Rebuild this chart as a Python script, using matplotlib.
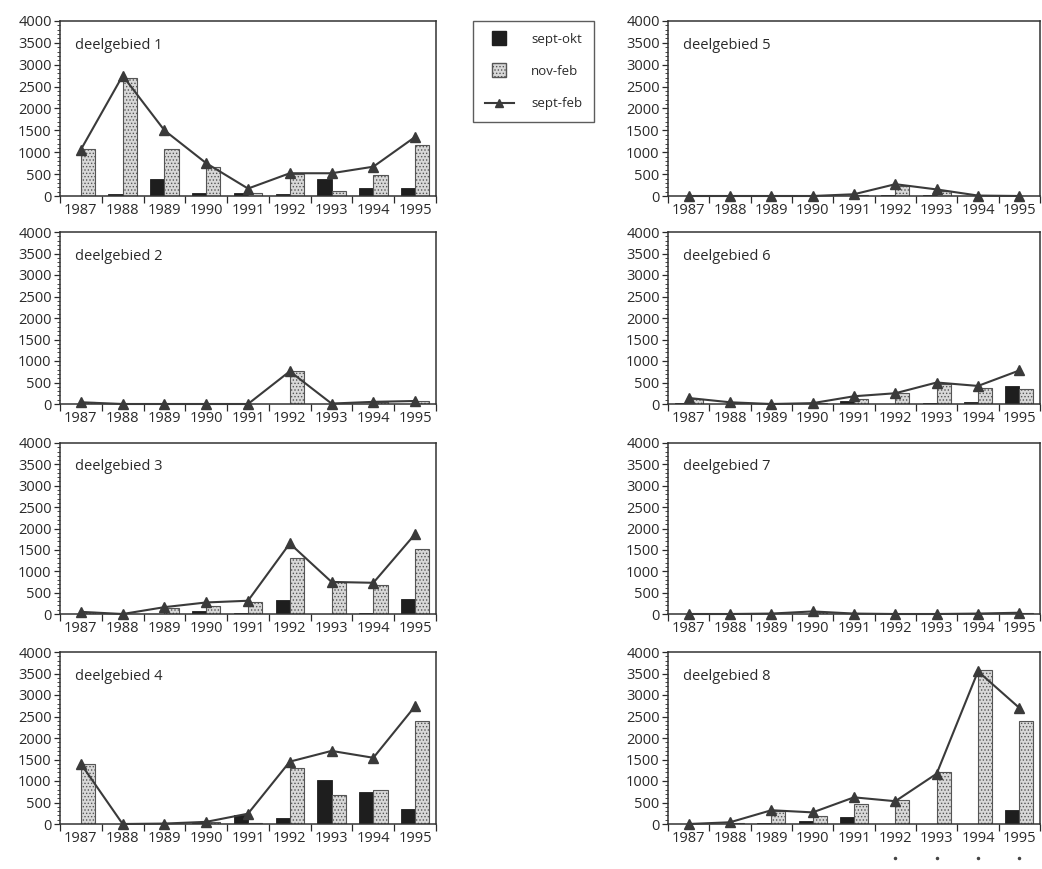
import matplotlib
matplotlib.use("Agg")
import matplotlib.pyplot as plt
from matplotlib.patches import Patch, Rectangle
from matplotlib.lines import Line2D
from matplotlib.legend_handler import HandlerPatch
from matplotlib.ticker import MultipleLocator, FixedLocator, NullFormatter

plt.rcParams['font.family'] = ['Open Sans', 'DejaVu Sans']
plt.rcParams['hatch.linewidth'] = 0.6

years = ['1987', '1988', '1989', '1990', '1991', '1992', '1993', '1994', '1995']
panel_titles = ['deelgebied 1', 'deelgebied 2', 'deelgebied 3', 'deelgebied 4',
                'deelgebied 5', 'deelgebied 6', 'deelgebied 7', 'deelgebied 8']
series_labels = ['sept-okt', 'nov-feb', 'sept-feb']

# sept-okt (black bars)
sept_okt_1 = [0, 40, 400, 60, 80, 40, 390, 190, 190]
sept_okt_2 = [0, 0, 0, 0, 0, 10, 0, 0, 0]
sept_okt_3 = [10, 0, 10, 80, 30, 330, 10, 30, 340]
sept_okt_4 = [0, 0, 0, 20, 220, 150, 1030, 740, 340]
sept_okt_5 = [0, 0, 0, 0, 10, 20, 20, 0, 0]
sept_okt_6 = [20, 0, 0, 0, 60, 10, 30, 50, 430]
sept_okt_7 = [0, 0, 0, 10, 0, 0, 0, 0, 0]
sept_okt_8 = [0, 0, 20, 80, 160, 0, 0, 10, 330]

# nov-feb (stippled bars)
nov_feb_1 = [1080, 2700, 1080, 670, 80, 500, 110, 470, 1160]
nov_feb_2 = [40, 0, 0, 0, 0, 760, 15, 50, 70]
nov_feb_3 = [40, 0, 150, 180, 270, 1300, 740, 680, 1530]
nov_feb_4 = [1400, 0, 10, 40, 20, 1300, 670, 800, 2400]
nov_feb_5 = [0, 0, 0, 0, 30, 230, 120, 10, 0]
nov_feb_6 = [120, 30, 0, 20, 120, 250, 470, 370, 350]
nov_feb_7 = [0, 0, 10, 50, 0, 0, 0, 0, 30]
nov_feb_8 = [0, 20, 300, 190, 470, 550, 1220, 3580, 2400]

# sept-feb (line with triangles)
sept_feb_1 = [1060, 2750, 1500, 750, 170, 520, 520, 670, 1350]
sept_feb_2 = [40, 0, 0, 0, 0, 760, 10, 50, 70]
sept_feb_3 = [50, 0, 160, 270, 310, 1650, 750, 730, 1870]
sept_feb_4 = [1400, 0, 10, 50, 240, 1450, 1700, 1540, 2740]
sept_feb_5 = [0, 0, 0, 0, 40, 270, 150, 10, 0]
sept_feb_6 = [140, 40, 0, 20, 180, 250, 500, 420, 780]
sept_feb_7 = [0, 0, 10, 60, 10, 0, 0, 10, 30]
sept_feb_8 = [0, 40, 320, 270, 620, 530, 1170, 3550, 2700]

sept_okt = [sept_okt_1, sept_okt_2, sept_okt_3, sept_okt_4,
            sept_okt_5, sept_okt_6, sept_okt_7, sept_okt_8]
nov_feb = [nov_feb_1, nov_feb_2, nov_feb_3, nov_feb_4,
           nov_feb_5, nov_feb_6, nov_feb_7, nov_feb_8]
sept_feb = [sept_feb_1, sept_feb_2, sept_feb_3, sept_feb_4,
            sept_feb_5, sept_feb_6, sept_feb_7, sept_feb_8]

W, H = 1042, 869
fig = plt.figure(figsize=(W / 100, H / 100), dpi=100)

left_x, left_w = 60, 376
right_x, right_w = 668, 372
rows = [(21, 196), (232, 404), (443, 614), (652, 824)]

BLACK = '#1e1e1e'
GREY = '#d8d8d8'
LINEC = '#3a3a3a'
TXT = '#2a2a2a'

x = list(range(len(years)))
bw = 0.34

for i in range(8):
    col = 0 if i < 4 else 1
    r = i % 4
    top, bot = rows[r]
    x0, w = (left_x, left_w) if col == 0 else (right_x, right_w)
    ax = fig.add_axes([x0 / W, 1 - bot / H, w / W, (bot - top) / H])

    ax.bar([v - bw / 2 for v in x], sept_okt[i], width=bw, color=BLACK,
           edgecolor=BLACK, linewidth=0.6, zorder=2)
    ax.bar([v + bw / 2 for v in x], nov_feb[i], width=bw, color=GREY,
           edgecolor='#555555', linewidth=0.8, hatch='.....', zorder=2)
    ax.plot(x, sept_feb[i], color=LINEC, linewidth=1.5, marker='^',
            markersize=7, markerfacecolor=LINEC, markeredgecolor=LINEC,
            zorder=3, clip_on=False)

    ax.set_xlim(-0.5, 8.5)
    ax.set_ylim(0, 4000)
    ax.xaxis.set_major_locator(FixedLocator([v - 0.5 for v in range(10)]))
    ax.xaxis.set_major_formatter(NullFormatter())
    ax.xaxis.set_minor_locator(FixedLocator(x))
    ax.set_xticklabels(years, minor=True)
    ax.tick_params(axis='x', which='major', direction='out', length=5,
                   width=0.9, color=TXT)
    ax.tick_params(axis='x', which='minor', length=0, pad=5,
                   labelsize=10.5, labelcolor=TXT)

    ax.yaxis.set_major_locator(MultipleLocator(500))
    ax.yaxis.set_minor_locator(MultipleLocator(100))
    ax.tick_params(axis='y', which='major', direction='out', length=4,
                   width=0.9, color=TXT, labelsize=10.5, labelcolor=TXT, pad=2)
    ax.tick_params(axis='y', which='minor', direction='out', length=2,
                   width=0.6, color=TXT)

    for s in ax.spines.values():
        s.set_color('#333333')
        s.set_linewidth(1.1)

    ax.text(0.04, 0.86, panel_titles[i], transform=ax.transAxes,
            fontsize=10.5, color=TXT, ha='left', va='center')

    if i == 7:
        for k in [5, 6, 7, 8]:
            ax.plot([k], [-0.2], transform=ax.get_xaxis_transform(),
                    marker='o', markersize=1.5, color='#444444',
                    clip_on=False)


class SquareHandler(HandlerPatch):
    def create_artists(self, legend, orig_handle, xdescent, ydescent,
                       width, height, fontsize, trans):
        s = height * 1.5
        cx = -xdescent + width / 2
        cy = -ydescent + height / 2
        p = Rectangle((cx - s / 2, cy - s / 2), s, s)
        self.update_prop(p, orig_handle, legend)
        p.set_transform(trans)
        return [p]


handles = [Patch(facecolor=BLACK, edgecolor=BLACK),
           Patch(facecolor=GREY, edgecolor='#555555', hatch='.....'),
           Line2D([0], [0], color=LINEC, linewidth=1.5, marker='^',
                  markersize=6)]
leg = fig.legend(handles, series_labels, loc='upper left',
                 bbox_to_anchor=(473 / W, 1 - 21 / H), frameon=True,
                 fancybox=False, edgecolor='#333333', fontsize=9.5,
                 labelspacing=1.45, handlelength=2.2, handletextpad=1.3,
                 borderpad=0.9, borderaxespad=0, labelcolor=TXT,
                 handler_map={Patch: SquareHandler()})
leg.get_frame().set_linewidth(1.0)

fig.savefig('out.png', dpi=100)
